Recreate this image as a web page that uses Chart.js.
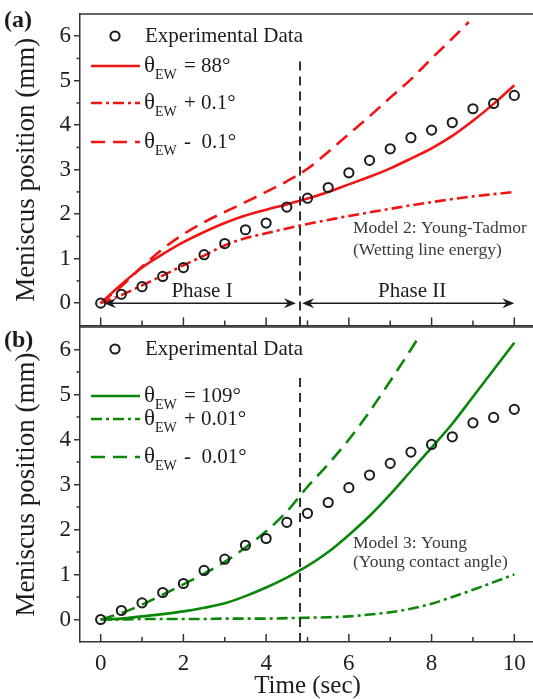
<!DOCTYPE html>
<html>
<head>
<meta charset="utf-8">
<title>Meniscus position vs time</title>
<script src="https://cdn.jsdelivr.net/npm/chart.js@4.4.1/dist/chart.umd.min.js"></script>
<style>
  html, body { margin: 0; padding: 0; background: #fff; overflow: hidden; width: 533px; height: 699px; }
  .panel { position: absolute; left: 0; }
  #boxA { top: 0; }
  #boxB { top: 320px; }
</style>
</head>
<body>
<div class="panel" id="boxA"><canvas id="panelA" width="545" height="332"></canvas></div>
<div class="panel" id="boxB"><canvas id="panelB" width="545" height="379"></canvas></div>
<script>
// ---- data -------------------------------------------------------------
const times = [0, 0.5, 1, 1.5, 2, 2.5, 3, 3.5, 4, 4.5, 5, 5.5, 6, 6.5, 7, 7.5, 8, 8.5, 9, 9.5, 10];
const experimental = [0, 0.2, 0.37, 0.6, 0.8, 1.09, 1.34, 1.65, 1.8, 2.16, 2.36, 2.6, 2.93, 3.21, 3.47, 3.72, 3.89, 4.06, 4.37, 4.49, 4.67];

// Model 2: Young-Tadmor (wetting line energy)
const tadmorFit  = [0, 0.42, 0.8, 1.1, 1.37, 1.6, 1.8, 1.97, 2.1, 2.22, 2.35, 2.5, 2.67, 2.84, 3.03, 3.25, 3.48, 3.76, 4.1, 4.48, 4.9];
const tadmorPlus = [0, 0.18, 0.4, 0.62, 0.85, 1.07, 1.3, 1.46, 1.57, 1.68, 1.78, 1.87, 1.96, 2.04, 2.12, 2.2, 2.27, 2.34, 2.4, 2.45, 2.5];
const tadmorMinusTimes = [0, 0.5, 1, 1.5, 2, 2.5, 3, 3.5, 4, 4.5, 5, 5.5, 6, 6.5, 7, 7.5, 8, 8.5, 8.9];
const tadmorMinus = [0, 0.38, 0.82, 1.22, 1.55, 1.82, 2.05, 2.27, 2.5, 2.74, 3.02, 3.4, 3.8, 4.2, 4.62, 5.03, 5.5, 5.95, 6.32];

// Model 3: Young (Young contact angle)
const youngFit  = [0, 0.02, 0.07, 0.12, 0.18, 0.26, 0.36, 0.52, 0.71, 0.93, 1.19, 1.5, 1.88, 2.3, 2.78, 3.3, 3.82, 4.35, 4.95, 5.55, 6.15];
const youngPlus = [0, 0, 0.01, 0.01, 0.01, 0.01, 0.02, 0.02, 0.02, 0.03, 0.04, 0.05, 0.07, 0.11, 0.16, 0.24, 0.35, 0.5, 0.66, 0.83, 1.0];
const youngMinusTimes = [0, 0.5, 1, 1.5, 2, 2.5, 3, 3.5, 4, 4.5, 5, 5.5, 6, 6.5, 7, 7.5, 7.72];
const youngMinus = [0, 0.14, 0.33, 0.55, 0.78, 1.02, 1.28, 1.6, 1.96, 2.4, 2.95, 3.45, 4.0, 4.62, 5.3, 6.0, 6.32];

// phase boundary and phase spans (time, sec)
const phaseBoundary = 4.82;
const boundaryTop = 5.45;
const phaseOne = [0.08, 4.72];
const phaseTwo = [4.87, 10.0];

// axis ticks
const xMajorTicks = [0, 2, 4, 6, 8, 10];
const xMinorTicks = [1, 3, 5, 7, 9];
const yMajorTicks = [0, 1, 2, 3, 4, 5, 6];
const yMinorTicks = [0.5, 1.5, 2.5, 3.5, 4.5, 5.5];

// ---- styling -------------------------------------------------------------
const SERIF = "'Liberation Serif', 'Times New Roman', serif";
const RED = '#f21313';
const GREEN = '#0a870a';
const INK = '#1c1c1c';
const FRAME = '#333333';
const DASHED = [14, 8];
const DASHDOT = [11, 4, 3, 4];

const pts = (ts, vs) => ts.map((t, i) => ({ x: t, y: vs[i] }));

function curve(label, ts, vs, color, dash) {
  return {
    label, data: pts(ts, vs), borderColor: color, borderWidth: 2.6,
    borderDash: dash, pointRadius: 0, fill: false,
    cubicInterpolationMode: 'monotone', order: 2
  };
}
function markers() {
  return {
    label: 'Experimental Data', data: pts(times, experimental), showLine: false,
    pointStyle: 'circle', pointRadius: 4.6, pointBorderWidth: 2,
    pointBorderColor: INK, pointBackgroundColor: 'rgba(0,0,0,0)', order: 0
  };
}
function boundary() {
  return {
    label: 'boundary', data: [{ x: phaseBoundary, y: -0.5 }, { x: phaseBoundary, y: boundaryTop }],
    borderColor: INK, borderWidth: 1.8, borderDash: [9, 6], pointRadius: 0, order: 1
  };
}

function drawLine(ctx, x1, y1, x2, y2) {
  ctx.beginPath(); ctx.moveTo(x1, y1); ctx.lineTo(x2, y2); ctx.stroke();
}
function arrowHead(ctx, x, y, dir) {
  ctx.beginPath();
  ctx.moveTo(x, y);
  ctx.lineTo(x - dir * 12, y - 5);
  ctx.lineTo(x - dir * 8, y);
  ctx.lineTo(x - dir * 12, y + 5);
  ctx.closePath();
  ctx.fill();
}

// frame, minor ticks, legend, notes
const decor = {
  id: 'decor',
  afterDraw(chart, args, o) {
    const { ctx, chartArea: a, scales: { x, y } } = chart;
    ctx.save();
    ctx.strokeStyle = FRAME; ctx.lineWidth = 1.5; ctx.setLineDash([]);
    drawLine(ctx, a.left - 0.75, a.top, a.right, a.top);
    // y minor ticks (outward)
    yMinorTicks.forEach(v => { const py = y.getPixelForValue(v); drawLine(ctx, a.left - 3.5, py, a.left, py); });
    // x ticks (inward)
    xMajorTicks.forEach(t => { const px = x.getPixelForValue(t); drawLine(ctx, px, a.bottom, px, a.bottom - 8); });
    xMinorTicks.forEach(t => { const px = x.getPixelForValue(t); drawLine(ctx, px, a.bottom, px, a.bottom - 5); });

    // panel tag
    ctx.fillStyle = INK;
    ctx.font = `bold 24px ${SERIF}`;
    ctx.textBaseline = 'middle'; ctx.textAlign = 'left';
    ctx.fillText(o.tag, 4, 21);

    // legend
    o.legend.forEach(item => {
      ctx.save();
      if (item.marker) {
        ctx.strokeStyle = INK; ctx.lineWidth = 2;
        ctx.beginPath(); ctx.arc(115, item.y, 4.6, 0, Math.PI * 2); ctx.stroke();
        ctx.fillStyle = INK; ctx.font = `21px ${SERIF}`; ctx.textBaseline = 'middle';
        ctx.fillText(item.text, 145, item.y);
      } else {
        ctx.strokeStyle = item.color; ctx.lineWidth = 2.6; ctx.setLineDash(item.dash);
        drawLine(ctx, 91, item.y, 140, item.y);
        ctx.setLineDash([]);
        ctx.fillStyle = INK; ctx.textBaseline = 'middle';
        ctx.font = `23px ${SERIF}`;
        ctx.fillText('\u03B8', 144, item.y);
        const tw = ctx.measureText('\u03B8').width;
        ctx.font = `14px ${SERIF}`;
        ctx.fillText('EW', 144 + tw, item.y + 9);
        ctx.font = `21px ${SERIF}`;
        ctx.fillText(item.text, 184, item.y);
      }
      ctx.restore();
    });

    // notes
    ctx.fillStyle = '#3a3a3a';
    ctx.font = `17.5px ${SERIF}`;
    ctx.textBaseline = 'middle'; ctx.textAlign = 'left';
    o.notes.forEach(n => ctx.fillText(n.text, x.getPixelForValue(n.x), y.getPixelForValue(n.y)));

    // phase arrows
    if (o.phases) {
      ctx.strokeStyle = INK; ctx.fillStyle = INK; ctx.lineWidth = 1.5;
      const py = y.getPixelForValue(0);
      [phaseOne, phaseTwo].forEach(span => {
        const x1 = x.getPixelForValue(span[0]), x2 = x.getPixelForValue(span[1]);
        drawLine(ctx, x1 + 4, py, x2 - 4, py);
        arrowHead(ctx, x1, py, -1);
        arrowHead(ctx, x2, py, 1);
      });
      ctx.font = `21px ${SERIF}`;
      ctx.textAlign = 'center'; ctx.textBaseline = 'alphabetic';
      o.phases.forEach(p => ctx.fillText(p.text, x.getPixelForValue(p.x), y.getPixelForValue(0) - 6));
    }
    ctx.restore();
  }
};

function yScale(showTitle) {
  return {
    type: 'linear', min: -0.5, max: 6.5,
    afterBuildTicks: s => { s.ticks = yMajorTicks.map(v => ({ value: v })); },
    afterFit: s => { s.width = 80; s.paddingTop = 0; s.paddingBottom = 0; },
    border: { display: true, color: FRAME, width: 1.5 },
    grid: { display: true, drawOnChartArea: false, drawTicks: true, tickLength: 6, color: FRAME, lineWidth: 1.5 },
    ticks: { font: { family: SERIF, size: 23 }, color: INK, padding: 3, callback: v => String(v) },
    title: { display: showTitle, text: 'Meniscus position (mm)', color: INK,
             font: { family: SERIF, size: 27, lineHeight: 1 }, padding: { top: 13, bottom: 0 } }
  };
}
function xScale(showLabels, height) {
  return {
    type: 'linear', min: -0.5, max: 10.5, position: 'bottom',
    afterBuildTicks: s => { s.ticks = xMajorTicks.map(v => ({ value: v })); },
    afterFit: s => { s.height = height; s.paddingLeft = 0; s.paddingRight = 0; },
    border: { display: true, color: FRAME, width: 1.5 },
    grid: { display: false, drawTicks: false },
    ticks: { display: showLabels, font: { family: SERIF, size: 23 }, color: INK, padding: 8, maxRotation: 0, callback: v => String(v) },
    title: { display: showLabels, text: 'Time (sec)', color: INK,
             font: { family: SERIF, size: 25, lineHeight: 1 }, padding: { top: 0, bottom: 0 } }
  };
}

function build(canvasId, datasets, padTop, xHeight, decorOpts, showX) {
  return new Chart(document.getElementById(canvasId), {
    type: 'line',
    data: { datasets },
    options: {
      responsive: false, animation: false, devicePixelRatio: 1,
      layout: { padding: { top: padTop, right: 10, bottom: 0, left: 0 } },
      scales: { x: xScale(showX, xHeight), y: yScale(true) },
      plugins: { legend: { display: false }, tooltip: { enabled: false }, decor: decorOpts }
    },
    plugins: [decor]
  });
}

build('panelA', [
  markers(),
  boundary(),
  curve('\u03B8EW = 88\u00B0', times, tadmorFit, RED, []),
  curve('\u03B8EW + 0.1\u00B0', times, tadmorPlus, RED, DASHDOT),
  curve('\u03B8EW - 0.1\u00B0', tadmorMinusTimes, tadmorMinus, RED, DASHED)
], 14, 5, {
  tag: '(a)',
  legend: [
    { marker: true, y: 36, text: 'Experimental Data' },
    { color: RED, dash: [], y: 66, text: '= 88\u00B0' },
    { color: RED, dash: DASHDOT, y: 103, text: '+ 0.1\u00B0' },
    { color: RED, dash: DASHED, y: 142, text: '-  0.1\u00B0' }
  ],
  notes: [
    { text: 'Model 2: Young-Tadmor', x: 6.1, y: 1.67 },
    { text: '(Wetting line energy)', x: 6.1, y: 1.18 }
  ],
  phases: [ { text: 'Phase I', x: 2.45 }, { text: 'Phase II', x: 7.53 } ]
}, false);

build('panelB', [
  markers(),
  boundary(),
  curve('\u03B8EW = 109\u00B0', times, youngFit, GREEN, []),
  curve('\u03B8EW + 0.01\u00B0', times, youngPlus, GREEN, DASHDOT),
  curve('\u03B8EW - 0.01\u00B0', youngMinusTimes, youngMinus, GREEN, DASHED)
], 7, 57, {
  tag: '(b)',
  legend: [
    { marker: true, y: 29, text: 'Experimental Data' },
    { color: GREEN, dash: [], y: 76, text: '= 109\u00B0' },
    { color: GREEN, dash: DASHDOT, y: 99, text: '+ 0.01\u00B0' },
    { color: GREEN, dash: DASHED, y: 137, text: '-  0.01\u00B0' }
  ],
  notes: [
    { text: 'Model 3: Young', x: 6.1, y: 1.7 },
    { text: '(Young contact angle)', x: 6.1, y: 1.26 }
  ]
}, true);
</script>
</body>
</html>
